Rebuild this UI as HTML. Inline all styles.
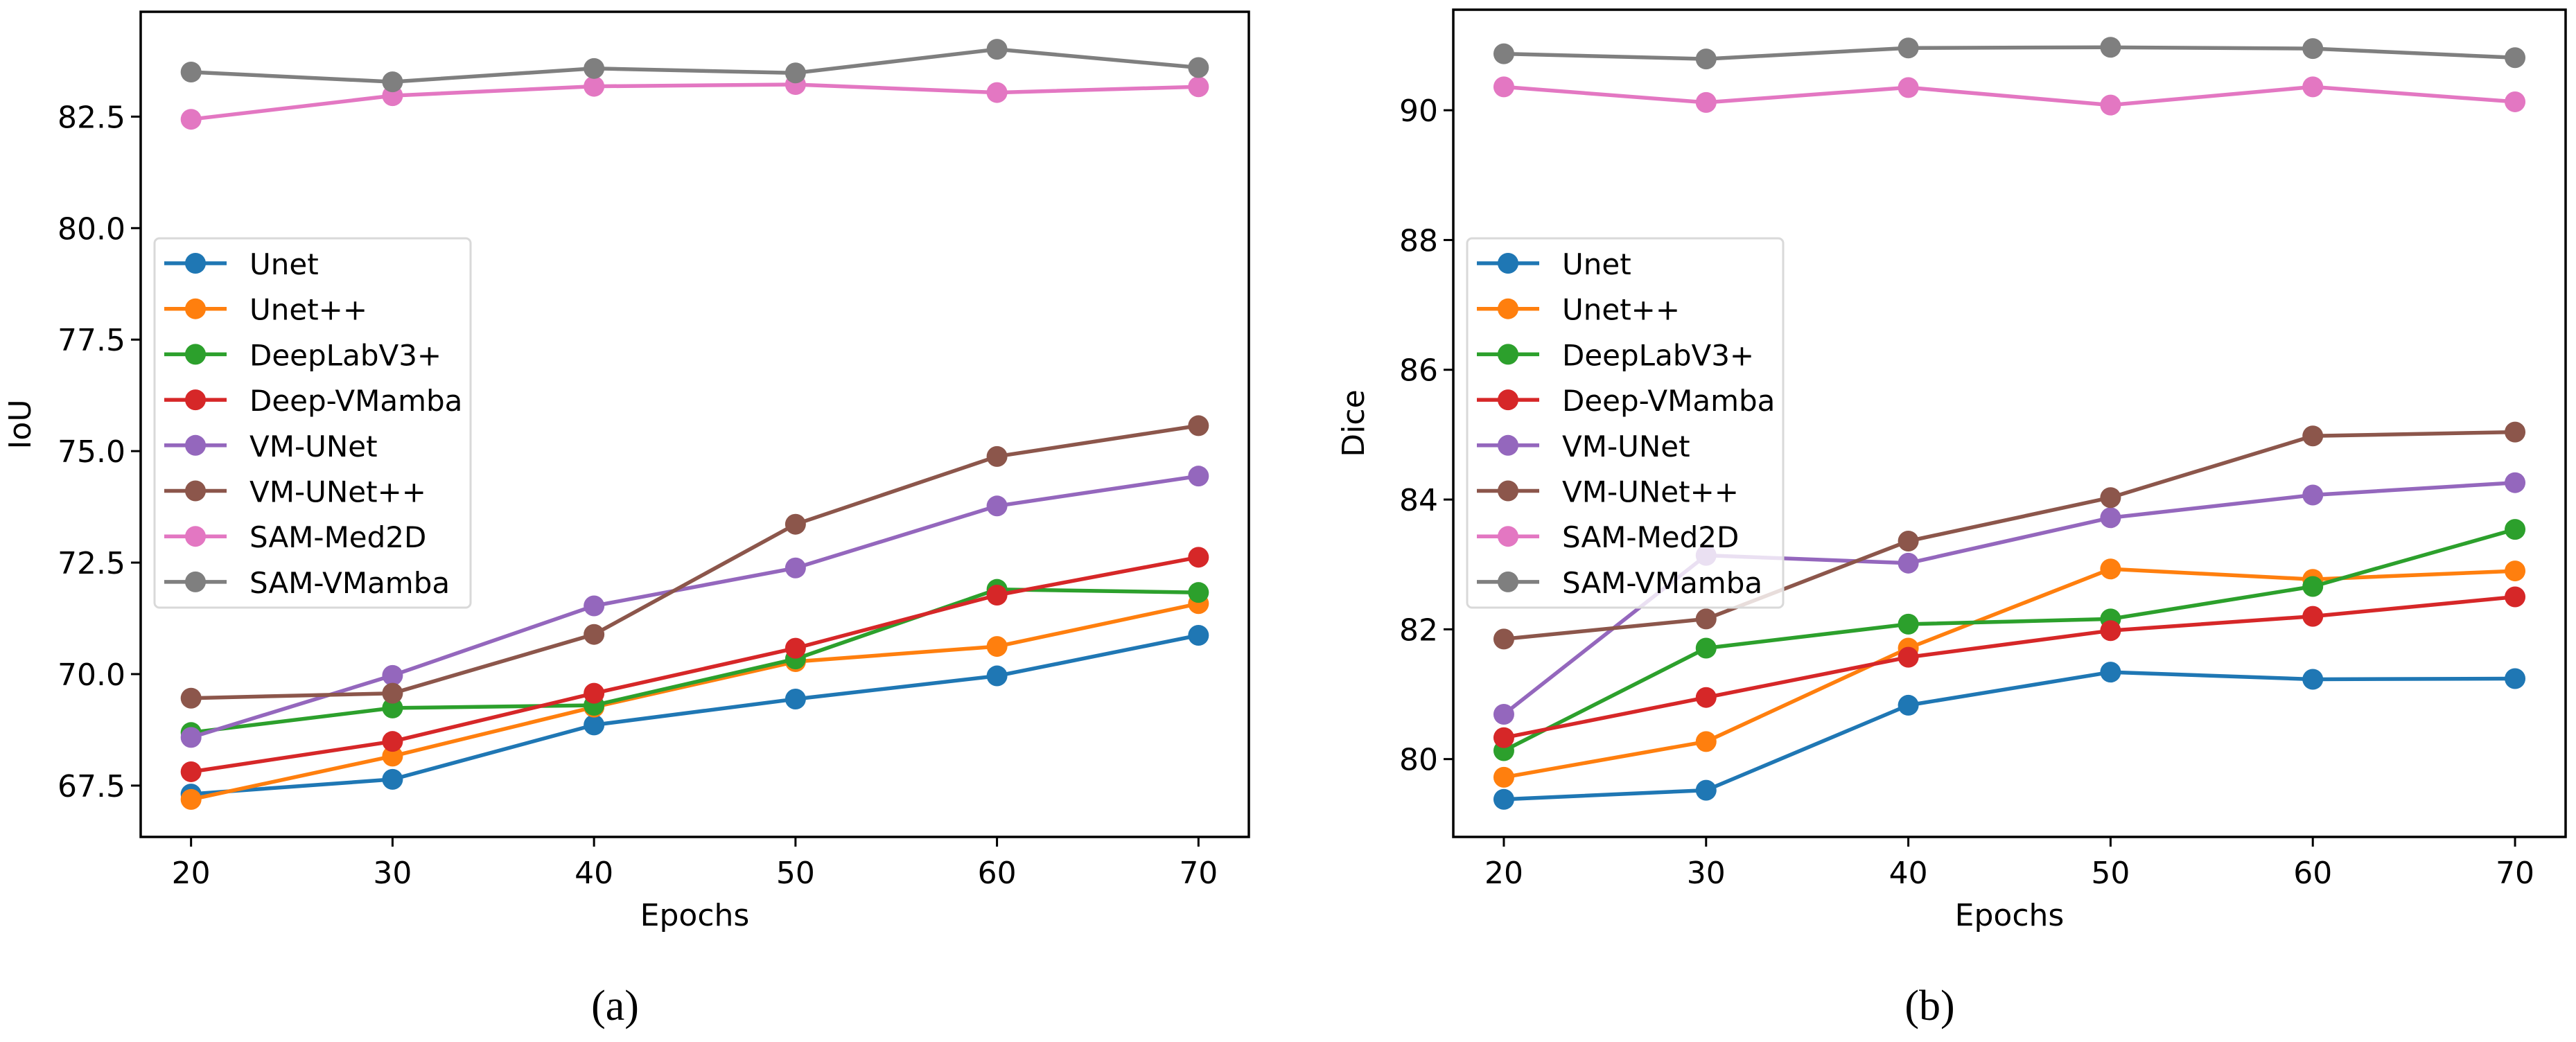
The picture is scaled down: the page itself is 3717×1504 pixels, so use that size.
<!DOCTYPE html>
<html><head><meta charset="utf-8"><style>
html,body{margin:0;padding:0;background:#fff;}
svg{display:block;font-family:"DejaVu Sans","Liberation Sans",sans-serif;}
</style></head><body>
<svg id="fig" width="3717" height="1504" viewBox="0 0 3717 1504" xmlns="http://www.w3.org/2000/svg"></svg>
<script>
const epochs = [20, 30, 40, 50, 60, 70];
const seriesNames = ["Unet","Unet++","DeepLabV3+","Deep-VMamba","VM-UNet","VM-UNet++","SAM-Med2D","SAM-VMamba"];
const colors = ["#1f77b4","#ff7f0e","#2ca02c","#d62728","#9467bd","#8c564b","#e377c2","#7f7f7f"];
const iouUnet = [67.31, 67.64, 68.86, 69.44, 69.96, 70.87];
const iouUnetpp = [67.19, 68.16, 69.26, 70.28, 70.62, 71.58];
const iouDeepLab = [68.69, 69.24, 69.30, 70.34, 71.90, 71.83];
const iouDeepVM = [67.81, 68.49, 69.57, 70.58, 71.77, 72.62];
const iouVMUNet = [68.58, 69.97, 71.53, 72.38, 73.77, 74.44];
const iouVMUNetpp = [69.46, 69.57, 70.89, 73.36, 74.88, 75.57];
const iouSAMMed = [82.44, 82.97, 83.18, 83.22, 83.04, 83.17];
const iouSAMVM = [83.50, 83.28, 83.58, 83.48, 84.01, 83.60];
const diceUnet = [79.38, 79.52, 80.83, 81.34, 81.23, 81.24];
const diceUnetpp = [79.72, 80.27, 81.71, 82.93, 82.77, 82.90];
const diceDeepLab = [80.13, 81.71, 82.08, 82.16, 82.66, 83.54];
const diceDeepVM = [80.33, 80.95, 81.57, 81.98, 82.20, 82.50];
const diceVMUNet = [80.69, 83.14, 83.02, 83.72, 84.07, 84.26];
const diceVMUNetpp = [81.85, 82.16, 83.36, 84.03, 84.98, 85.04];
const diceSAMMed = [90.36, 90.12, 90.35, 90.08, 90.36, 90.13];
const diceSAMVM = [90.87, 90.79, 90.96, 90.97, 90.95, 90.81];
const iouTicks = [67.5, 70.0, 72.5, 75.0, 77.5, 80.0, 82.5];
const iouTickLabels = ["67.5","70.0","72.5","75.0","77.5","80.0","82.5"];
const diceTicks = [80, 82, 84, 86, 88, 90];
const diceTickLabels = ["80","82","84","86","88","90"];
const xTickLabels = ["20","30","40","50","60","70"];

const NS = "http://www.w3.org/2000/svg";
const svg = document.getElementById("fig");
function mk(tag, attrs, parent){
  const e = document.createElementNS(NS, tag);
  for (const k in attrs) e.setAttribute(k, attrs[k]);
  (parent||svg).appendChild(e);
  return e;
}

function drawPanel(p){
  const g = mk("g", {});
  
  
  const all = p.series.flat();
  const mn = Math.min(...all), mx = Math.max(...all);
  const pad = (mx - mn) * 0.05;
  const y0 = mn - pad, y1 = mx + pad;
  const xmin = 17.5, xmax = 72.5;
  const X = v => p.L + (v - xmin) / (xmax - xmin) * (p.R - p.L);
  const Y = v => p.B - (v - y0) / (y1 - y0) * (p.B - p.T);

  // series
  p.series.forEach((vals, si) => {
    const sg = mk("g", {}, g);
    
    
    const pts = vals.map((v,i) => X(epochs[i]).toFixed(1) + "," + Y(v).toFixed(1)).join(" ");
    const pl = mk("polyline", {points: pts, fill: "none", stroke: colors[si], "stroke-width": 5.5, "stroke-linejoin": "round"}, sg);
    
    
    vals.forEach((v,i) => {
      const c = mk("circle", {cx: X(epochs[i]), cy: Y(v), r: 15, fill: colors[si]}, sg);
      
      
    });
  });

  // frame
  const fr = mk("rect", {x: p.L, y: p.T, width: p.R - p.L, height: p.B - p.T, fill: "none", stroke: "#000", "stroke-width": 3.5}, g);
  
  

  // x ticks
  epochs.forEach((e,i) => {
    const x = X(e);
    mk("line", {x1: x, x2: x, y1: p.B, y2: p.B + 14, stroke: "#000", "stroke-width": 3}, g);
    const t = mk("text", {x: x, y: p.B + 67, "font-size": 44, "text-anchor": "middle"}, g);
    
    
    t.textContent = xTickLabels[i];
  });
  // y ticks
  p.ticks.forEach((v,i) => {
    const y = Y(v);
    mk("line", {x1: p.L - 14, x2: p.L, y1: y, y2: y, stroke: "#000", "stroke-width": 3}, g);
    const t = mk("text", {x: p.L - 22, y: y + 16, "font-size": 44, "text-anchor": "end"}, g);
    
    
    t.textContent = p.tickLabels[i];
  });
  // axis labels
  const xl = mk("text", {x: (p.L + p.R)/2, y: p.B + 128, "font-size": 44, "text-anchor": "middle"}, g);
  
  
  xl.textContent = "Epochs";
  const yl = mk("text", {x: 0, y: 0, "font-size": 44, "text-anchor": "middle", transform: `translate(${p.ylx},${(p.T+p.B)/2}) rotate(-90)`}, g);
  
  
  yl.textContent = p.ylabel;
  const cap = mk("text", {x: (p.L + p.R)/2 - 115, y: 1472, "font-size": 62, "text-anchor": "middle", "font-family": "'Liberation Serif', serif"}, g);
  
  
  cap.textContent = p.caption;

  // legend
  const lg = mk("g", {}, g);
  
  
  const lx = p.L + 20;
  mk("rect", {x: lx, y: 344, width: 456, height: 533, rx: 7, fill: "#fff", "fill-opacity": 0.8, stroke: "#d9d9d9", "stroke-width": 3}, lg);
  seriesNames.forEach((n, i) => {
    const cy = 380 + i * 65.7;
    const eg = mk("g", {}, lg);
    
    
    mk("line", {x1: lx + 14, x2: lx + 104, y1: cy, y2: cy, stroke: colors[i], "stroke-width": 5.5}, eg);
    mk("circle", {cx: lx + 59, cy: cy, r: 15, fill: colors[i]}, eg);
    const t = mk("text", {x: lx + 137, y: cy + 16, "font-size": 42}, eg);
    t.textContent = n;
  });
}

drawPanel({name: "iou-chart", L: 203, R: 1802, T: 17, B: 1208,
  series: [iouUnet, iouUnetpp, iouDeepLab, iouDeepVM, iouVMUNet, iouVMUNetpp, iouSAMMed, iouSAMVM],
  ticks: iouTicks, tickLabels: iouTickLabels, ylabel: "IoU", ylx: 44, caption: "(a)"});
drawPanel({name: "dice-chart", L: 2097, R: 3702, T: 14, B: 1208,
  series: [diceUnet, diceUnetpp, diceDeepLab, diceDeepVM, diceVMUNet, diceVMUNetpp, diceSAMMed, diceSAMVM],
  ticks: diceTicks, tickLabels: diceTickLabels, ylabel: "Dice", ylx: 1968, caption: "(b)"});
</script>
</body></html>
